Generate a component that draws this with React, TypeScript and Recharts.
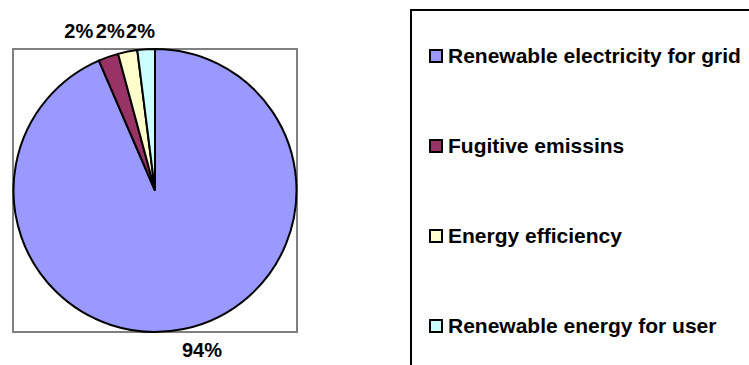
import { PieChart, Pie, Cell, Legend } from 'recharts';

const categories = [
    "Renewable electricity for grid",
    "Fugitive emissins",
    "Energy efficiency",
    "Renewable energy for user",
];
const shares = [93.6, 2.3, 2.2, 2.0];
const colors = ["#9999FF", "#993366", "#FFFFCC", "#CCFFFF"];

const data = categories.map((name, i) => ({ name, value: shares[i] }));

const RAD = Math.PI / 180;
const FONT = '"Liberation Sans", Arial, Helvetica, sans-serif';

const renderLabel = (props: any) => {
    const { cx, cy, midAngle, outerRadius, percent } = props;
    // spread labels sideways a bit more than radial so the small slices' labels stay readable
    const x = cx + (outerRadius + 90) * Math.cos(-midAngle * RAD);
    const up = Math.sin(midAngle * RAD) > 0;
    const y = cy + (up ? -1 : 1) * (outerRadius + 18);
    return (
        <text
            x={x}
            y={y}
            textAnchor="middle"
            dominantBaseline="central"
            fill="#000"
            fontSize={20}
            fontWeight="bold"
            fontFamily={FONT}
        >
            {Math.round(percent * 100)}%
        </text>
    );
};

// legend keeps the data order (recharts would sort it by name otherwise)
const renderLegend = () => (
    <div
        style={{
            borderLeft: '2px solid #000',
            borderTop: '2px solid #000',
            height: 400,
            boxSizing: 'border-box',
            fontFamily: FONT,
        }}
    >
        {categories.map((name, i) => (
            <div key={name} style={{ height: 90, display: 'flex', alignItems: 'center', paddingLeft: 17 }}>
                <span
                    style={{
                        width: 10,
                        height: 10,
                        border: '2px solid #000',
                        background: colors[i],
                        marginRight: 5,
                        flexShrink: 0,
                    }}
                />
                <span style={{ fontSize: 21, fontWeight: 'bold', color: '#000', whiteSpace: 'nowrap' }}>
                    {name}
                </span>
            </div>
        ))}
    </div>
);

export default function App() {
    return (
        <div style={{ position: 'absolute', left: 0, top: 0, width: 749, height: 365, overflow: 'hidden', background: '#fff' }}>
            {/* plot area frame */}
            <div
                style={{
                    position: 'absolute',
                    left: 12,
                    top: 48,
                    width: 286,
                    height: 285,
                    border: '2px solid #808080',
                    boxSizing: 'border-box',
                }}
            />
            <div style={{ position: 'absolute', left: 0, top: 0 }}>
                <PieChart width={749} height={365} margin={{ top: 0, right: 0, bottom: 0, left: 0 }}>
                    <Pie
                        data={data}
                        dataKey="value"
                        nameKey="name"
                        cx={155}
                        cy={190.5}
                        outerRadius={141.5}
                        startAngle={90}
                        endAngle={-270}
                        stroke="#000"
                        strokeWidth={2}
                        label={renderLabel}
                        labelLine={false}
                        isAnimationActive={false}
                    >
                        {data.map((d, i) => (
                            <Cell key={d.name} fill={colors[i]} />
                        ))}
                    </Pie>
                    <Legend
                        content={renderLegend}
                        wrapperStyle={{ position: 'absolute', left: 410, top: 9, width: 339, height: 356, overflow: 'hidden' }}
                    />
                </PieChart>
            </div>
        </div>
    );
}
